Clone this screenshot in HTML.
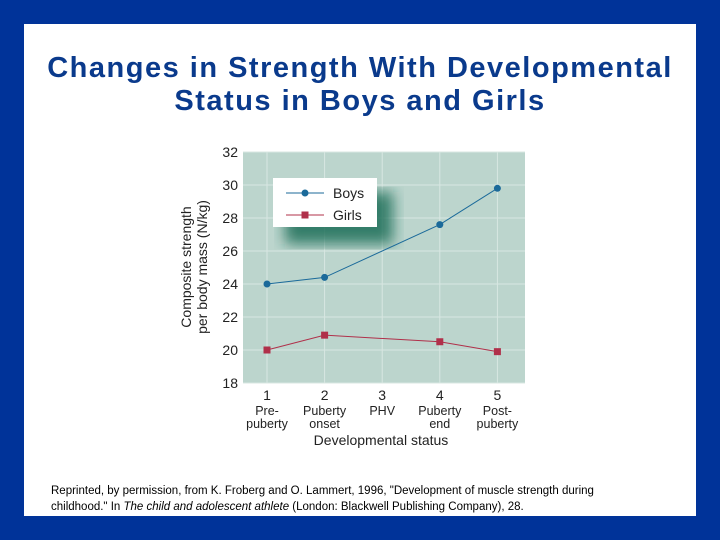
<!DOCTYPE html>
<html><head><meta charset="utf-8"><style>
body{margin:0;width:720px;height:540px;background:#003399;overflow:hidden;font-family:"Liberation Sans",sans-serif}
#slide{position:absolute;left:24px;top:24px;width:672px;height:492px;background:#fff}
h1{position:absolute;left:0;top:52px;width:720px;margin:0;text-align:center;font-size:29px;font-weight:bold;color:#0a3a8c;line-height:33px;letter-spacing:1.5px}
#cap{position:absolute;left:51px;top:483px;font-size:11.5px;line-height:16px;color:#000}
</style></head><body>
<div id="slide"></div>
<h1>Changes in Strength With Developmental<br>Status in Boys and Girls</h1>
<svg id="chart" width="720" height="540" style="position:absolute;left:0;top:0">
<defs><filter id="blur"><feGaussianBlur stdDeviation="7"/></filter></defs>
</svg>
<div id="cap">Reprinted, by permission, from K. Froberg and O. Lammert, 1996, "Development of muscle strength during<br>childhood." In <i>The child and adolescent athlete</i> (London: Blackwell Publishing Company), 28.</div>
<script>
const xCats=[1,2,3,4,5];
const xLabels=["Pre-\npuberty","Puberty\nonset","PHV","Puberty\nend","Post-\npuberty"];
const yTicks=[18,20,22,24,26,28,30,32];
const boysX=[1,2,4,5];
const boysY=[24.0,24.4,27.6,29.8];
const girlsX=[1,2,4,5];
const girlsY=[20.0,20.9,20.5,19.9];

const L=243,R=525,T=152,B=383;
const xs=v=>267+(v-1)*57.6;
const ys=v=>B-(v-18)/14*(B-T);
const svg=document.getElementById('chart');
const NS='http://www.w3.org/2000/svg';
function mk(t,a,p){const e=document.createElementNS(NS,t);for(const k in a)e.setAttribute(k,a[k]);(p||svg).appendChild(e);return e;}

let e=mk('rect',{x:L,y:T,width:R-L,height:B-T,fill:'#bcd5cd'});

yTicks.forEach(v=>{
  let g=mk('line',{x1:L,x2:R,y1:ys(v),y2:ys(v),stroke:'#d8e7e2','stroke-width':1});
  
  let t=mk('text',{x:238,y:ys(v)+5,'text-anchor':'end','font-size':14,fill:'#222'});t.textContent=v;
  
});
xCats.forEach((c,i)=>{
  let g=mk('line',{x1:xs(c),x2:xs(c),y1:T,y2:B,stroke:'#d8e7e2','stroke-width':1});
  
  let t=mk('text',{x:xs(c),y:400,'text-anchor':'middle','font-size':14,fill:'#222'});t.textContent=c;
  
  xLabels[i].split('\n').forEach((s,j)=>{
    let u=mk('text',{x:xs(c),y:415+j*13,'text-anchor':'middle','font-size':12.5,fill:'#222'});u.textContent=s;
    
  });
});
let xt=mk('text',{x:381,y:445,'text-anchor':'middle','font-size':14,fill:'#222'});xt.textContent='Developmental status';

let yt=mk('text',{transform:'translate(191,267) rotate(-90)','text-anchor':'middle','font-size':14,fill:'#222'});

['Composite strength','per body mass (N/kg)'].forEach((s,j)=>{let ts=mk('tspan',{x:0,y:j*16},yt);ts.textContent=s;});

let sh=mk('rect',{x:285,y:192,width:108,height:52,fill:'#1f6e58',opacity:0.85,filter:'url(#blur)'});

let lb=mk('rect',{x:273,y:178,width:104,height:49,fill:'#fff'});


function series(X,Y,col,sq,name){
  let pts=X.map((x,i)=>xs(x)+','+ys(Y[i])).join(' ');
  let p=mk('polyline',{points:pts,fill:'none',stroke:col,'stroke-width':1});
  
  X.forEach((x,i)=>{
    let m=sq?mk('rect',{x:xs(x)-3.5,y:ys(Y[i])-3.5,width:7,height:7,fill:col}):mk('circle',{cx:xs(x),cy:ys(Y[i]),r:3.5,fill:col});
    
  });
}
series(boysX,boysY,'#1b6a9a',false,'boys');
series(girlsX,girlsY,'#b0304a',true,'girls');

[['Boys','#1b6a9a',false,193],['Girls','#b0304a',true,215]].forEach(([n,c,sq,y])=>{
  let l=mk('line',{x1:286,x2:324,y1:y,y2:y,stroke:c,'stroke-width':1});
  
  let m=sq?mk('rect',{x:301.5,y:y-3.5,width:7,height:7,fill:c}):mk('circle',{cx:305,cy:y,r:3.5,fill:c});
  
  let t=mk('text',{x:333,y:y+5,'font-size':14,fill:'#222'});t.textContent=n;
  
});
</script>
</body></html>
